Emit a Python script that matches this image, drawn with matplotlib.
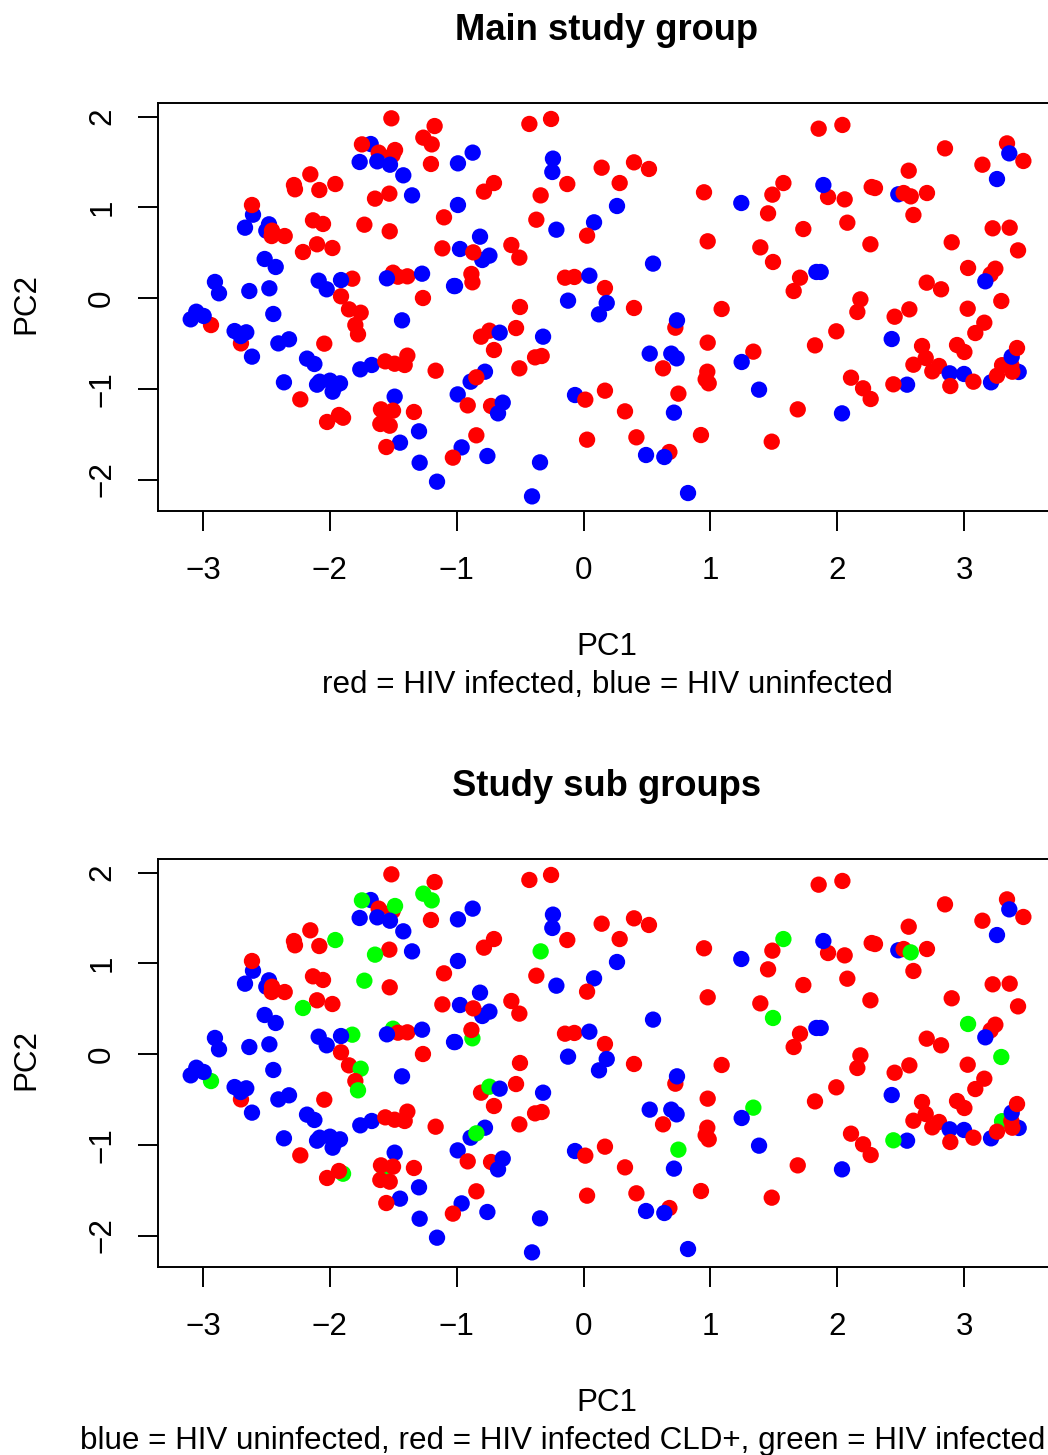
import matplotlib
matplotlib.use("Agg")
import matplotlib.pyplot as plt

plt.rcParams["font.family"] = ["Liberation Sans", "DejaVu Sans"]

# points in drawing order, the overlaps depend on it
pc1 = [
    -1.515, -1.174, -1.263, -1.197, -1.678, -1.747, -1.615, -1.505, -1.486, -1.765,
    -1.626, -1.526, -1.203, -1.421, -1.352, -1.531, -1.644, -2.154, -1.957, -2.083,
    -2.283, -2.275, -2.606, -2.614, -2.480, -2.669, -2.501, -2.456, -2.459, -2.356,
    -2.133, -2.054, -1.728, -1.528, -1.100, -1.113, -2.101, -1.980, -2.212, -2.514,
    -2.427, -2.906, -2.874, -2.635, -2.477, -2.088, -2.025, -1.823, -1.912, -1.912,
    -1.502, -1.463, -1.389, -1.550, -1.273, -1.021, -1.266, -1.849, -1.757, -1.799,
    -1.778, -2.937, -3.053, -2.995, -3.097, -2.446, -1.431, -2.701, -2.751, -2.659,
    -2.703, -2.614, -2.406, -2.322, -2.044, -2.180, -2.122, -2.362, -2.080, -2.101,
    -1.999, -1.920, -1.962, -1.978, -1.760, -1.670, -1.563, -1.489, -1.389, -1.410,
    -1.166, -1.489, -2.233, -1.570, -1.502, -1.337, -1.602, -1.528, -1.597, -1.896,
    -1.928, -2.022, -1.297, -1.447, -1.555, -1.292, -1.155, -0.961, -1.030, -0.427,
    -0.256, -0.874, -0.990, -0.241, -0.246, -0.128, 0.143, 0.398, 0.516, 0.285,
    -0.706, -0.785, -0.338, -0.990, 0.950, 0.264, 1.244, 0.083, 0.028, -0.372,
    -0.214, -0.816, -0.569, -0.506, 0.979, -0.974, -0.742, -0.798, -0.869, -0.146,
    -0.072, 0.046, 0.169, 0.548, -0.876, -0.884, -1.013, -0.122, 0.183, 0.122,
    -0.501, 0.398, 1.089, -0.808, -0.742, -0.661, -0.532, -0.319, -0.706, -0.382,
    -0.330, -0.506, -0.777, -0.890, -0.845, -0.992, -0.913, -0.729, -0.637, -0.674,
    -0.845, -0.758, -0.343, -0.406, -0.067, 0.014, 0.169, 0.327, 0.028, 0.417,
    0.493, 0.677, 0.637, 0.926, 0.824, 0.713, 0.748, 0.627, 0.522, 0.692,
    0.734, 0.724, 0.737, 0.979, 0.976, 0.963, 0.987, 1.339, 1.247, 1.854,
    2.041, 2.850, 3.339, 3.357, 3.468, 3.145, 3.260, 2.564, 1.576, 1.489,
    1.928, 1.891, 2.059, 2.272, 2.298, 2.482, 2.524, 2.580, 2.708, 2.601,
    1.455, 2.080, 1.733, 3.226, 3.360, 1.394, 2.262, 2.903, 3.426, 1.494,
    3.032, 3.247, 3.210, 3.168, 1.836, 1.870, 1.707, 1.657, 2.706, 2.819,
    2.183, 3.294, 2.159, 2.569, 2.453, 3.029, 3.160, 3.089, 1.993, 1.825,
    2.430, 2.669, 2.698, 2.601, 2.803, 2.750, 2.887, 3.000, 2.945,
    3.003, 2.892, 3.074, 3.213, 3.431, 3.300, 3.260, 3.373, 3.381, 3.376,
    3.418, 2.109, 2.204, 2.264, 2.551, 2.443, 1.384, 1.689, 2.038, 1.484,
]
pc2 = [
    1.980, 1.895, 1.767, 1.693, 1.697, 1.693, 1.602, 1.576, 1.631, 1.499,
    1.506, 1.469, 1.477, 1.352, 1.131, 1.150, 1.095, 1.363, 1.256, 1.190,
    1.245, 1.198, 0.918, 1.025, 0.812, 0.775, 0.742, 0.742, 0.683, 0.683,
    0.856, 0.816, 0.808, 0.735, 0.889, 0.547, 0.592, 0.551, 0.507, 0.430,
    0.342, 0.177, 0.052, 0.077, 0.107, 0.191, 0.096, 0.213, 0.198, 0.019,
    0.279, 0.235, 0.239, 0.217, 0.268, 0.132, 0.000, -0.125, -0.162, -0.298,
    -0.400, -0.298, -0.151, -0.198, -0.235, -0.176, -0.246, -0.500, -0.364, -0.378,
    -0.419, -0.646, -0.500, -0.455, -0.503, -0.668, -0.727, -0.929, -0.922, -0.955,
    -0.911, -0.940, -0.977, -1.032, -0.786, -0.738, -0.698, -0.724, -0.635, -0.738,
    -0.801, -1.087, -1.117, -1.280, -1.241, -1.256, -1.388, -1.407, -1.227, -1.319,
    -1.289, -1.366, -1.469, -1.594, -1.642, -1.815, -2.024, -1.646, -1.759, 1.918,
    1.973, 1.602, 1.484, 1.536, 1.389, 1.256, 1.436, 1.495, 1.422, 1.267,
    1.267, 1.172, 1.131, 1.025, 1.165, 1.014, 1.047, 0.834, 0.687, 0.863,
    0.753, 0.676, 0.584, 0.445, 0.625, 0.540, 0.467, 0.419, 0.503, 0.224,
    0.232, 0.246, 0.110, 0.379, 0.173, 0.265, 0.132, -0.029, -0.055, -0.180,
    -0.099, -0.110, -0.121, -0.426, -0.360, -0.382, -0.331, -0.426, -0.573, -0.654,
    -0.639, -0.775, -0.812, -0.922, -0.874, -1.062, -1.183, -1.190, -1.153, -1.271,
    -1.513, -1.741, -1.811, -2.186, -1.069, -1.120, -1.021, -1.249, -1.561, -1.535,
    -1.730, -1.697, -1.752, -1.510, -2.149, -1.263, -1.054, -0.775, -0.613, -0.613,
    -0.665, -0.327, -0.246, -0.492, -0.812, -0.896, -0.940, -0.591, -0.705, 1.866,
    1.907, 1.649, 1.704, 1.594, 1.510, 1.469, 1.311, 1.403, 1.267, 1.139,
    1.113, 1.245, 1.087, 1.223, 1.212, 1.143, 1.157, 1.120, 1.157, 0.915,
    0.933, 0.830, 0.760, 0.768, 0.775, 0.558, 0.592, 0.614, 0.525, 0.397,
    0.331, 0.323, 0.261, 0.184, 0.287, 0.287, 0.224, 0.077, 0.169, 0.096,
    -0.015, -0.033, -0.154, -0.125, -0.206, -0.118, -0.272, -0.386, -0.367, -0.522,
    -0.452, -0.529, -0.661, -0.735, -0.749, -0.808, -0.830, -0.837, -0.518,
    -0.595, -0.970, -0.922, -0.929, -0.815, -0.740, -0.856, -0.738, -0.812, -0.646,
    -0.551, -0.878, -0.995, -1.113, -0.955, -0.951, -1.010, -1.227, -1.271, -1.583,
]
# u = HIV uninfected, c = infected CLD+, n = infected (red above, green below)
group = (
    "ccnnunccnu" "uucuucncnc" "ccucuuuccc" "ccncccccnu" "uuuuuuunuc"
    "nccuuuccnc" "nnuuuuucuu" "uuuucuuuuu" "uuuuuucccc" "cucncccccn"
    "ccuucuuucc" "cuuuuccccc" "ccnucuuucc" "uucccuuucc" "cucuncuuuu"
    "ccccnucucc" "ccuunuccuu" "cuuuuccccc" "ucucuuncuu" "ucuccccnuc"
    "cccuccucnc" "cucccucncc" "cccccccccn" "nccuuucccc" "cncccccccc"
    "ucccccuuc" "cccuuncccu" "ccccunucuc"
)

W, H = 1048, 1455
XLIM = (-3.355, 3.73)
YLIM = (-2.347, 2.149)
BLUE, RED, GREEN = "#0000ff", "#ff0000", "#00ff00"
FS = 22.6

fig = plt.figure(figsize=(W / 100, H / 100), dpi=100)


def panel(top, colors, title, line2, line2_x=607, line2_ha="center"):
    bottom = top + 408
    ax = fig.add_axes([158 / W, 1 - bottom / H, 898.6 / W, 408 / H])
    ax.scatter(pc1, pc2, c=colors, s=138, linewidths=0, zorder=3)
    ax.set_xlim(*XLIM)
    ax.set_ylim(*YLIM)
    ax.set_xticks([-3, -2, -1, 0, 1, 2, 3])
    ax.set_yticks([-2, -1, 0, 1, 2])
    ax.tick_params(axis="x", length=14.4, width=1.4, labelsize=FS, pad=18)
    ax.tick_params(axis="y", length=14.4, width=1.4, labelsize=FS, pad=15)
    for lab in ax.get_yticklabels():
        lab.set_rotation(90)
        lab.set_va("center")
    for s in ax.spines.values():
        s.set_linewidth(1.4)
    fig.text(607 / W, 1 - (top - 73) / H, title, ha="center", va="center", fontsize=26.2, fontweight="bold")
    fig.text(607 / W, 1 - (top + 544) / H, "PC1", ha="center", va="center", fontsize=FS)
    fig.text(line2_x / W, 1 - (top + 582) / H, line2, ha=line2_ha, va="center", fontsize=FS)
    fig.text(26 / W, 1 - (top + 201) / H, "PC2", ha="center", va="center", rotation=90, fontsize=FS)
    return ax


top_colors = [BLUE if g == "u" else RED for g in group]
low_colors = [{"u": BLUE, "c": RED, "n": GREEN}[g] for g in group]

panel(103, top_colors, "Main study group", "red = HIV infected, blue = HIV uninfected")
panel(859, low_colors, "Study sub groups", "blue = HIV uninfected, red = HIV infected CLD+, green = HIV infected",
      line2_x=80, line2_ha="left")

fig.savefig("out.png", dpi=100)
